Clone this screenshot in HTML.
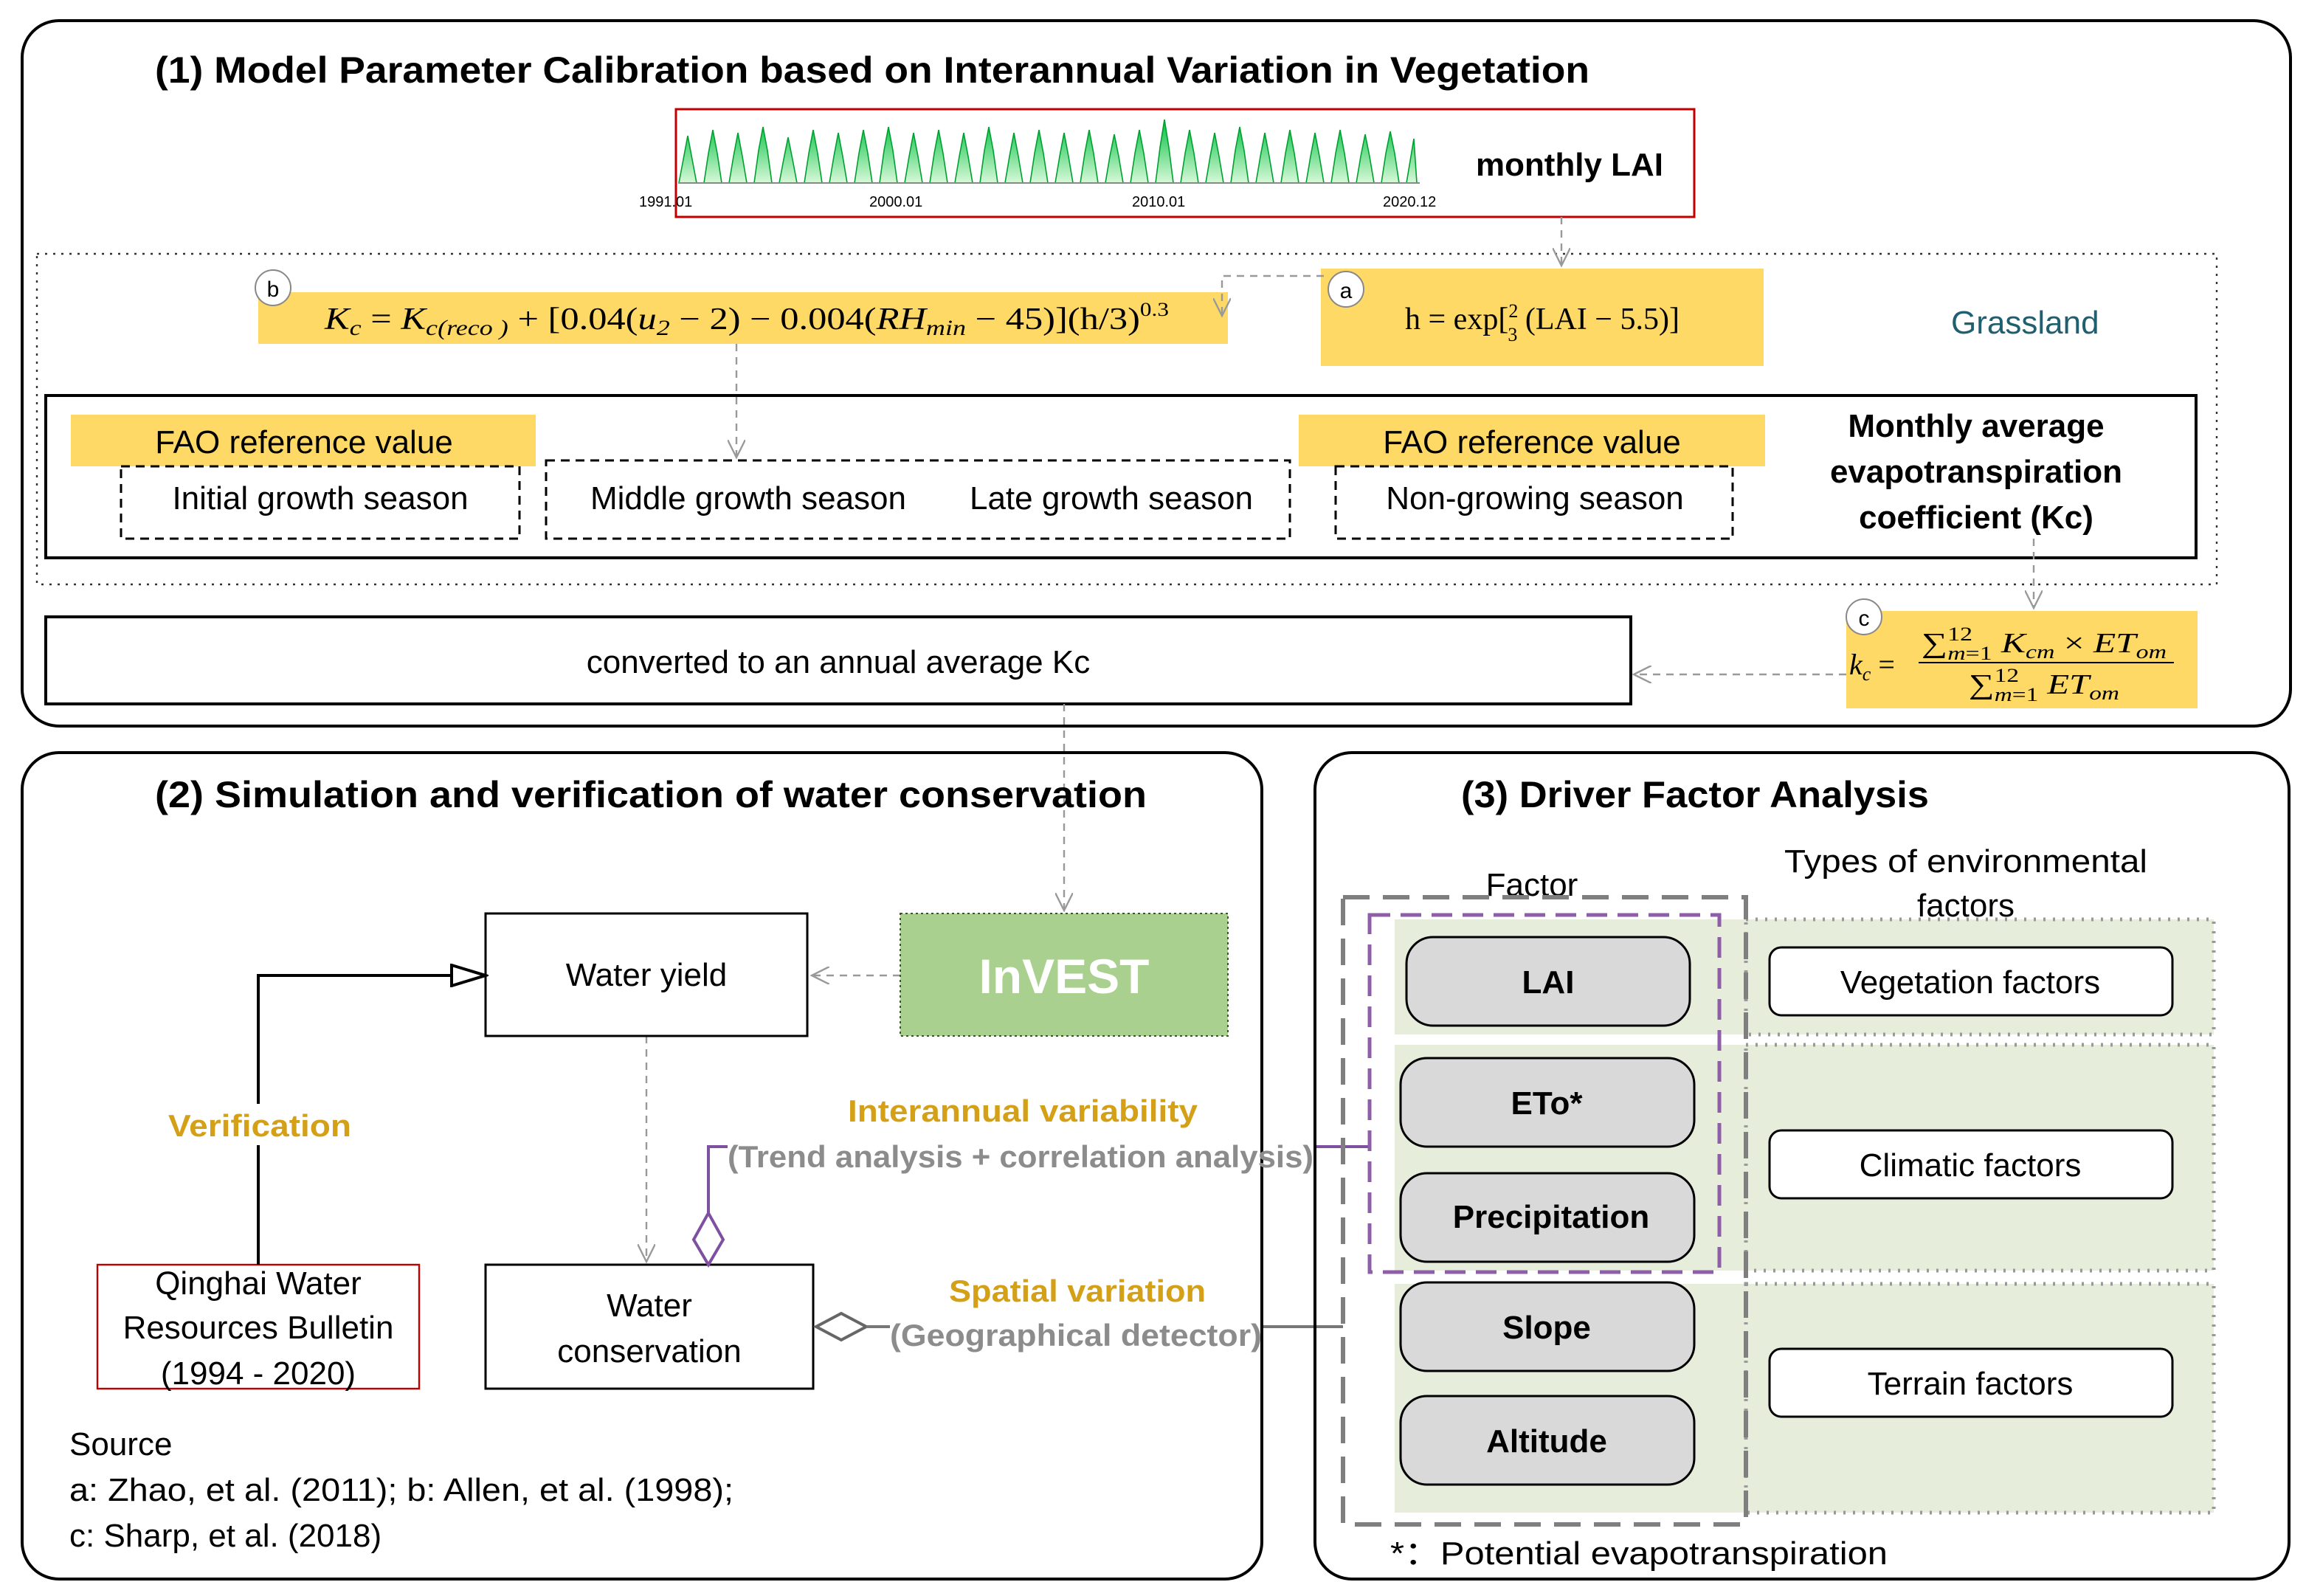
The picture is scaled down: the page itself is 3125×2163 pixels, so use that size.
<!DOCTYPE html>
<html><head><meta charset="utf-8"><style>
html,body{margin:0;padding:0;background:#fff}
svg{display:block}
text{font-family:"Liberation Sans",sans-serif}
.s{font-family:"Liberation Serif",serif}
</style></head><body>
<svg width="3125" height="2163" viewBox="0 0 1562.5 1081.5" xmlns="http://www.w3.org/2000/svg">
<defs>
<marker id="oa" markerWidth="14" markerHeight="12" refX="12" refY="6" orient="auto" markerUnits="userSpaceOnUse"><path d="M0,0 L12,6 L0,12" fill="none" stroke="#999" stroke-width="1.2"/></marker>
<marker id="tri" markerWidth="26" markerHeight="16" refX="24" refY="8" orient="auto" markerUnits="userSpaceOnUse"><path d="M1,1 L24,8 L1,15 Z" fill="#fff" stroke="#000" stroke-width="2"/></marker>
<linearGradient id="g" x1="0" y1="0" x2="0" y2="1"><stop offset="0" stop-color="#00c040"/><stop offset="1" stop-color="#d8f8d8"/></linearGradient>
</defs>
<!-- Panel 1 -->
<rect x="15" y="14" width="1537" height="478" rx="25" fill="none" stroke="#000" stroke-width="2"/>
<text x="105" y="56" font-size="25" font-weight="bold" textLength="972" lengthAdjust="spacingAndGlyphs">(1) Model Parameter Calibration based on Interannual Variation in Vegetation</text>
<rect x="458" y="74" width="690" height="73" fill="none" stroke="#c00000" stroke-width="1.5"/>
<path fill="url(#g)" stroke="#00a030" stroke-width="0.8" d="M460,124 
L463,108 L466,92 L469,108 L472,124 L477,124 L480,104 L483,88 L486,104 L489,124 L494,124 L497,106 L500,90 L503,106 L506,124 L511,124 L514,102 L517,86 L520,102 L523,124 L528,124 L531,108 L534,93 L537,108 L540,124 L545,124 L548,104 L551,88 L554,104 L557,124 L562,124 L565,106 L568,90 L571,106 L574,124 L579,124 L582,104 L585,88 L588,104 L591,124 L596,124 L599,102 L602,86 L605,102 L608,124 L613,124 L616,106 L619,90 L622,106 L625,124 L630,124 L633,104 L636,88 L639,104 L642,124 L647,124 L650,106 L653,90 L656,106 L659,124 L664,124 L667,102 L670,86 L673,102 L676,124 L681,124 L684,106 L687,90 L690,106 L693,124 L698,124 L701,104 L704,88 L707,104 L710,124 L715,124 L718,106 L721,90 L724,106 L727,124 L732,124 L735,104 L738,88 L741,104 L744,124 L749,124 L752,106 L755,91 L758,106 L761,124 L766,124 L769,104 L772,88 L775,104 L778,124 L783,124 L786,100 L789,81 L792,100 L795,124 L800,124 L803,104 L806,88 L809,104 L812,124 L817,124 L820,106 L823,90 L826,106 L829,124 L834,124 L837,102 L840,86 L843,102 L846,124 L851,124 L854,106 L857,90 L860,106 L863,124 L868,124 L871,104 L874,88 L877,104 L880,124 L885,124 L888,106 L891,90 L894,106 L897,124 L902,124 L905,104 L908,88 L911,104 L914,124 L919,124 L922,106 L925,91 L928,106 L931,124 L936,124 L939,104 L942,89 L945,104 L948,124 L953,124 L956,106 L958,94 L960,124 Z"/>
<line x1="460" y1="124" x2="962" y2="124" stroke="#888" stroke-width="1"/>
<g font-size="10"><text x="433" y="140">1991.01</text><text x="589" y="140">2000.01</text><text x="767" y="140">2010.01</text><text x="937" y="140">2020.12</text></g>
<text x="1000" y="119" font-size="22" font-weight="bold" textLength="127" lengthAdjust="spacingAndGlyphs">monthly LAI</text>
<rect x="25" y="172" width="1477" height="224" fill="none" stroke="#333" stroke-width="1.2" stroke-dasharray="1.5,4"/>
<rect x="175" y="198" width="657" height="35" fill="#ffd966"/>
<text x="220" y="223" class="s" font-size="21" font-style="italic" textLength="572" lengthAdjust="spacingAndGlyphs">K<tspan font-size="15" dy="4">c</tspan><tspan dy="-4" font-style="normal">  =  </tspan>K<tspan font-size="15" dy="4">c(reco )</tspan><tspan dy="-4" font-style="normal"> + [0.04(</tspan>u<tspan font-size="15" dy="4">2</tspan><tspan dy="-4" font-style="normal"> − 2) − 0.004(</tspan>RH<tspan font-size="15" dy="4">min</tspan><tspan dy="-4" font-style="normal">   − 45)](h/3)</tspan><tspan font-size="13" dy="-9" font-style="normal">0.3</tspan></text>
<circle cx="185" cy="195" r="12" fill="#fff" stroke="#888"/><text x="185" y="201" font-size="15" text-anchor="middle">b</text>
<rect x="895" y="182" width="300" height="66" fill="#ffd966"/>
<text x="952" y="223" class="s" font-size="21">h = exp[<tspan font-size="13" dy="-8">2</tspan><tspan font-size="13" dx="-7" dy="16">3</tspan><tspan dy="-8"> (LAI − 5.5)]</tspan></text>
<circle cx="912" cy="196" r="12" fill="#fff" stroke="#888"/><text x="912" y="202" font-size="15" text-anchor="middle">a</text>
<text x="1322" y="226" font-size="22" fill="#1f5f6f">Grassland</text>
<rect x="31" y="268" width="1457" height="110" fill="none" stroke="#000" stroke-width="2"/>
<rect x="48" y="281" width="315" height="35" fill="#ffd966"/>
<text x="206" y="307" font-size="22" text-anchor="middle">FAO reference value</text>
<rect x="82" y="316" width="270" height="49" fill="none" stroke="#000" stroke-width="1.5" stroke-dasharray="6,4"/>
<text x="217" y="345" font-size="22" text-anchor="middle">Initial growth season</text>
<rect x="370" y="312" width="504" height="53" fill="none" stroke="#000" stroke-width="1.5" stroke-dasharray="6,4"/>
<text x="507" y="345" font-size="22" text-anchor="middle">Middle growth season</text>
<text x="753" y="345" font-size="22" text-anchor="middle">Late growth season</text>
<rect x="880" y="281" width="316" height="35" fill="#ffd966"/>
<text x="1038" y="307" font-size="22" text-anchor="middle">FAO reference value</text>
<rect x="905" y="316" width="269" height="49" fill="none" stroke="#000" stroke-width="1.5" stroke-dasharray="6,4"/>
<text x="1040" y="345" font-size="22" text-anchor="middle">Non-growing season</text>
<g font-size="22" font-weight="bold" text-anchor="middle"><text x="1339" y="296">Monthly average</text><text x="1339" y="327">evapotranspiration</text><text x="1339" y="358">coefficient (Kc)</text></g>
<rect x="1251" y="414" width="238" height="66" fill="#ffd966"/>
<text x="1253" y="457" class="s" font-size="20" font-style="italic">k<tspan font-size="13" dy="4">c</tspan><tspan dy="-4" font-style="normal"> = </tspan></text>
<line x1="1300" y1="449" x2="1473" y2="449" stroke="#000" stroke-width="1"/>
<text x="1302" y="442" class="s" font-size="19" textLength="166" lengthAdjust="spacingAndGlyphs"><tspan>∑</tspan><tspan font-size="13" dy="-8">12</tspan><tspan font-size="13" dx="-13" dy="13" font-style="italic">m</tspan><tspan font-size="13" dy="0">=1</tspan><tspan dy="-5" font-style="italic"> K</tspan><tspan font-size="13" dy="4" font-style="italic">cm</tspan><tspan dy="-4"> × </tspan><tspan font-style="italic">ET</tspan><tspan font-size="13" dy="4" font-style="italic">om</tspan></text>
<text x="1334" y="470" class="s" font-size="19" textLength="102" lengthAdjust="spacingAndGlyphs"><tspan>∑</tspan><tspan font-size="13" dy="-8">12</tspan><tspan font-size="13" dx="-13" dy="13" font-style="italic">m</tspan><tspan font-size="13">=1</tspan><tspan dy="-5" font-style="italic"> ET</tspan><tspan font-size="13" dy="4" font-style="italic">om</tspan></text>
<circle cx="1263" cy="418" r="12" fill="#fff" stroke="#888"/><text x="1263" y="424" font-size="15" text-anchor="middle">c</text>
<rect x="31" y="418" width="1074" height="59" fill="none" stroke="#000" stroke-width="2"/>
<text x="568" y="456" font-size="22" text-anchor="middle">converted to an annual average Kc</text>
<g stroke="#999" stroke-width="1.2" stroke-dasharray="5,4" fill="none">
<path d="M1058,147 L1058,180" marker-end="url(#oa)"/>
<path d="M897,187 L828,187 L828,214" marker-end="url(#oa)"/>
<path d="M499,233 L499,310" marker-end="url(#oa)"/>
<path d="M1378,365 L1378,412" marker-end="url(#oa)"/>
<path d="M1251,457 L1107,457" marker-end="url(#oa)"/>
<path d="M721,477 L721,617" marker-end="url(#oa)"/>
<path d="M610,661 L550,661" marker-end="url(#oa)"/>
<path d="M438,702 L438,855" marker-end="url(#oa)"/>
</g>
<!-- Panel 2 -->
<rect x="15" y="510" width="840" height="560" rx="25" fill="none" stroke="#000" stroke-width="2"/>
<text x="105" y="547" font-size="25" font-weight="bold" textLength="672" lengthAdjust="spacingAndGlyphs">(2)   Simulation and verification of water conservation</text>
<rect x="329" y="619" width="218" height="83" fill="#fff" stroke="#000" stroke-width="1.5"/>
<text x="438" y="668" font-size="22" text-anchor="middle">Water yield</text>
<rect x="610" y="619" width="222" height="83" fill="#a9d08e" stroke="#385723" stroke-width="1" stroke-dasharray="1.5,2"/>
<text x="721" y="673" font-size="33" font-weight="bold" fill="#fff" text-anchor="middle">InVEST</text>
<rect x="329" y="857" width="222" height="84" fill="#fff" stroke="#000" stroke-width="1.5"/>
<text x="440" y="892" font-size="22" text-anchor="middle">Water</text><text x="440" y="923" font-size="22" text-anchor="middle">conservation</text>
<rect x="66" y="857" width="218" height="84" fill="#fff" stroke="#c00000" stroke-width="1.2"/>
<g font-size="22" text-anchor="middle"><text x="175" y="877">Qinghai Water</text><text x="175" y="907">Resources Bulletin</text><text x="175" y="938">(1994 - 2020)</text></g>
<path d="M175,857 L175,661 L329,661" fill="none" stroke="#000" stroke-width="2" marker-end="url(#tri)"/>
<rect x="112" y="748" width="130" height="28" fill="#fff"/>
<text x="176" y="770" font-size="21" font-weight="bold" fill="#d4a017" text-anchor="middle" textLength="124" lengthAdjust="spacingAndGlyphs">Verification</text>
<text x="693" y="760" font-size="21" font-weight="bold" fill="#d4a017" text-anchor="middle" textLength="237" lengthAdjust="spacingAndGlyphs">Interannual variability</text>
<path d="M480,822 L480,777 L493,777 M890,777 L928,777" fill="none" stroke="#7f4fa0" stroke-width="2"/>
<path d="M480,822 L490,840 L480,857 L470,840 Z" fill="#fff" stroke="#7f4fa0" stroke-width="2"/>
<text x="493" y="791" font-size="21" font-weight="bold" fill="#8c8c8c" textLength="397" lengthAdjust="spacingAndGlyphs">(Trend analysis + correlation analysis)</text>
<text x="730" y="882" font-size="21" font-weight="bold" fill="#d4a017" text-anchor="middle" textLength="174" lengthAdjust="spacingAndGlyphs">Spatial variation</text>
<path d="M553,899 L570,890 L587,899 L570,908 Z" fill="#fff" stroke="#666" stroke-width="2"/>
<path d="M587,899 L603,899 M856,899 L910,899" stroke="#777" stroke-width="2"/>
<text x="603" y="912" font-size="21" font-weight="bold" fill="#8c8c8c" textLength="252" lengthAdjust="spacingAndGlyphs">(Geographical detector)</text>
<g font-size="22"><text x="47" y="986">Source</text><text x="47" y="1017" textLength="450" lengthAdjust="spacingAndGlyphs">a: Zhao, et al. (2011); b: Allen, et al. (1998);</text><text x="47" y="1048">c: Sharp, et al. (2018)</text></g>
<!-- Panel 3 -->
<rect x="891" y="510" width="660" height="560" rx="25" fill="none" stroke="#000" stroke-width="2"/>
<text x="990" y="547" font-size="25" font-weight="bold" textLength="317" lengthAdjust="spacingAndGlyphs">(3)  Driver Factor Analysis</text>
<text x="1038" y="607" font-size="22" text-anchor="middle">Factor</text>
<text x="1332" y="591" font-size="22" text-anchor="middle" textLength="246" lengthAdjust="spacingAndGlyphs">Types of environmental</text>
<text x="1332" y="621" font-size="22" text-anchor="middle">factors</text>
<g fill="#e6eedb"><rect x="945" y="623" width="555" height="78"/><rect x="945" y="708" width="555" height="153"/><rect x="945" y="870" width="555" height="155"/></g>
<g fill="none" stroke="#999" stroke-width="2.5" stroke-dasharray="1.5,5">
<rect x="1183" y="623" width="317" height="78"/><rect x="1183" y="708" width="317" height="153"/><rect x="1183" y="870" width="317" height="155"/></g>
<rect x="910" y="608" width="273" height="425" fill="none" stroke="#7f7f7f" stroke-width="3" stroke-dasharray="18,9"/>
<rect x="928" y="620" width="237" height="242" fill="none" stroke="#8e5ea8" stroke-width="2.5" stroke-dasharray="14,7"/>
<g fill="#d9d9d9" stroke="#000" stroke-width="1.5">
<rect x="953" y="635" width="192" height="60" rx="18"/><rect x="949" y="717" width="199" height="60" rx="18"/><rect x="949" y="795" width="199" height="60" rx="18"/><rect x="949" y="869" width="199" height="60" rx="18"/><rect x="949" y="946" width="199" height="60" rx="18"/></g>
<g font-size="22" font-weight="bold" text-anchor="middle">
<text x="1049" y="673">LAI</text><text x="1048" y="755">ETo*</text><text x="1051" y="832">Precipitation</text><text x="1048" y="907">Slope</text><text x="1048" y="984">Altitude</text></g>
<g fill="#fff" stroke="#000" stroke-width="1.5"><rect x="1199" y="642" width="273" height="46" rx="8"/><rect x="1199" y="766" width="273" height="46" rx="8"/><rect x="1199" y="914" width="273" height="46" rx="8"/></g>
<g font-size="22" text-anchor="middle"><text x="1335" y="673">Vegetation factors</text><text x="1335" y="797">Climatic factors</text><text x="1335" y="945">Terrain factors</text></g>
<text x="942" y="1060" font-size="22" textLength="337" lengthAdjust="spacingAndGlyphs">*：Potential evapotranspiration</text>
</svg>
</body></html>
